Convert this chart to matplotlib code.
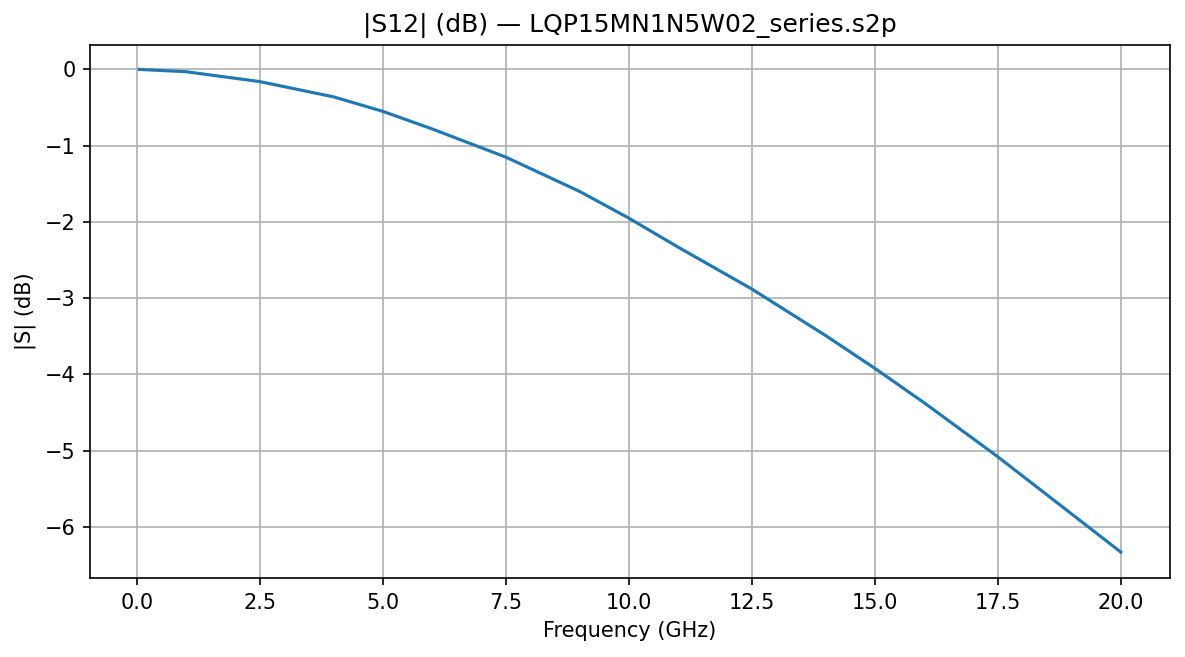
import matplotlib
matplotlib.use("Agg")
import matplotlib.pyplot as plt

freq_ghz = [0.05, 1.0, 2.5, 4.0, 5.0, 6.0, 7.5, 9.0, 10.0, 11.0, 12.5, 14.0, 15.0, 16.0, 17.5, 19.0, 20.0]
s12_db = [0.0, -0.03, -0.16, -0.36, -0.55, -0.78, -1.15, -1.60, -1.95, -2.33, -2.88, -3.49, -3.92, -4.37, -5.08, -5.83, -6.33]

fig = plt.figure(figsize=(1185/150, 657/150), dpi=150)
ax = fig.add_axes([90/1185, 1-578/657, 1080/1185, 533/657])
ax.plot(freq_ghz, s12_db, color="#1f77b4", lw=1.5)
ax.set_xlim(-0.95, 21.0)
ax.set_ylim(-6.67, 0.32)
ax.set_xticks([0, 2.5, 5, 7.5, 10, 12.5, 15, 17.5, 20])
ax.grid(True, color="#b0b0b0", lw=0.8)
ax.set_xlabel("Frequency (GHz)")
ax.set_ylabel("|S| (dB)")
ax.set_title("|S12| (dB) — LQP15MN1N5W02_series.s2p")
fig.savefig("out.png", dpi=150)
